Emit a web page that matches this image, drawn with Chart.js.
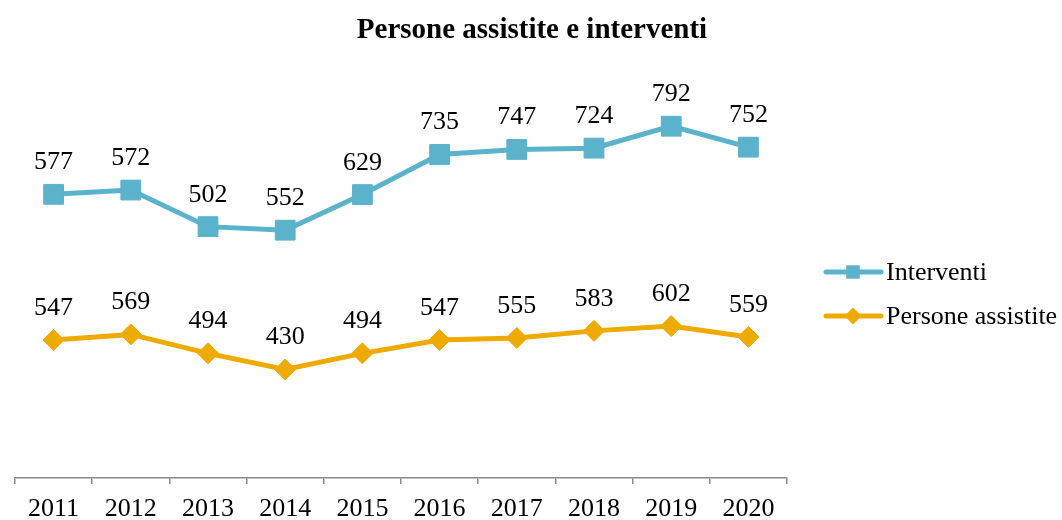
<!DOCTYPE html>
<html>
<head>
<meta charset="utf-8">
<script src="https://cdn.jsdelivr.net/npm/chart.js@4/dist/chart.umd.min.js"></script>
<style>
  html, body { margin: 0; padding: 0; background: #fff; }
</style>
</head>
<body>
<canvas id="chart" width="1062" height="520"></canvas>
<script>
const years = ['2011', '2012', '2013', '2014', '2015', '2016', '2017', '2018', '2019', '2020'];
const interventi = [577, 572, 502, 552, 629, 735, 747, 724, 792, 752];
const personeAssistite = [547, 569, 494, 430, 494, 547, 555, 583, 602, 559];
const chartTitle = 'Persone assistite e interventi';

const SERIF = '"Liberation Serif", "Times New Roman", serif';
const BLUE = '#5AB2CB';
const GOLD = '#EFAA00';

// title centred on the whole canvas, not just the plot area
const pageTitle = {
    id: 'pageTitle',
    afterDraw(chart) {
        const ctx = chart.ctx;
        ctx.save();
        ctx.font = 'bold 29px ' + SERIF;
        ctx.fillStyle = '#000';
        ctx.textAlign = 'center';
        ctx.textBaseline = 'alphabetic';
        ctx.fillText(chartTitle, chart.width / 2 + 1, 38);
        ctx.restore();
    }
};

// value labels above each point (raw value, not the stacked total)
const pointLabels = {
    id: 'pointLabels',
    afterDatasetsDraw(chart) {
        const ctx = chart.ctx;
        ctx.save();
        ctx.font = '26px ' + SERIF;
        ctx.fillStyle = '#000';
        ctx.textAlign = 'center';
        ctx.textBaseline = 'alphabetic';
        chart.data.datasets.forEach((ds, i) => {
            chart.getDatasetMeta(i).data.forEach((pt, j) => {
                ctx.fillText(String(ds.data[j]), pt.x, pt.y - 25);
            });
        });
        ctx.restore();
    }
};

// legend on the right: line with marker, Interventi listed first
const sideLegend = {
    id: 'sideLegend',
    afterDraw(chart) {
        const ctx = chart.ctx;
        const x0 = chart.chartArea.right + 39;
        const rows = [chart.data.datasets[1], chart.data.datasets[0]];
        ctx.save();
        rows.forEach((ds, k) => {
            const y = 272 + k * 44;
            ctx.strokeStyle = ds.borderColor;
            ctx.lineWidth = 5;
            ctx.lineCap = 'round';
            ctx.beginPath();
            ctx.moveTo(x0, y);
            ctx.lineTo(x0 + 55, y);
            ctx.stroke();
            ctx.fillStyle = ds.borderColor;
            Chart.helpers.drawPoint(ctx, {
                pointStyle: ds.pointStyle,
                radius: ds.pointStyle === 'rect' ? 9.5 : 8.5,
                borderWidth: 0,
                rotation: 0
            }, x0 + 27, y);
            ctx.fillStyle = '#000';
            ctx.font = '26px ' + SERIF;
            ctx.textAlign = 'left';
            ctx.textBaseline = 'middle';
            ctx.fillText(ds.label, x0 + 60, y + 1);
        });
        ctx.restore();
    }
};

new Chart(document.getElementById('chart'), {
    type: 'line',
    data: {
        labels: years,
        datasets: [
            {
                label: 'Persone assistite',
                data: personeAssistite,
                borderColor: GOLD,
                backgroundColor: GOLD,
                borderWidth: 5,
                pointStyle: 'rectRot',
                pointRadius: 10.5,
                pointBorderWidth: 1,
                fill: false,
                tension: 0
            },
            {
                label: 'Interventi',
                data: interventi,
                borderColor: BLUE,
                backgroundColor: BLUE,
                borderWidth: 5,
                pointStyle: 'rect',
                pointRadius: 14,
                pointBorderWidth: 1,
                fill: false,
                tension: 0
            }
        ]
    },
    options: {
        responsive: false,
        animation: false,
        clip: false,
        layout: {
            padding: { left: 11, right: 275, top: 78, bottom: 0 }
        },
        scales: {
            x: {
                offset: true,
                afterFit(scale) { scale.height = 42; },
                grid: {
                    offset: true,
                    drawOnChartArea: false,
                    tickLength: 6,
                    color: '#898989',
                    lineWidth: 1.5
                },
                border: { color: '#898989', width: 1.5 },
                ticks: {
                    color: '#000',
                    padding: 10,
                    font: { family: SERIF, size: 26 }
                }
            },
            y: {
                display: false,
                stacked: true,
                min: 0,
                max: 1585
            }
        },
        plugins: {
            legend: { display: false },
            tooltip: { enabled: false },
            title: { display: false }
        }
    },
    plugins: [pageTitle, pointLabels, sideLegend]
});
</script>
</body>
</html>
